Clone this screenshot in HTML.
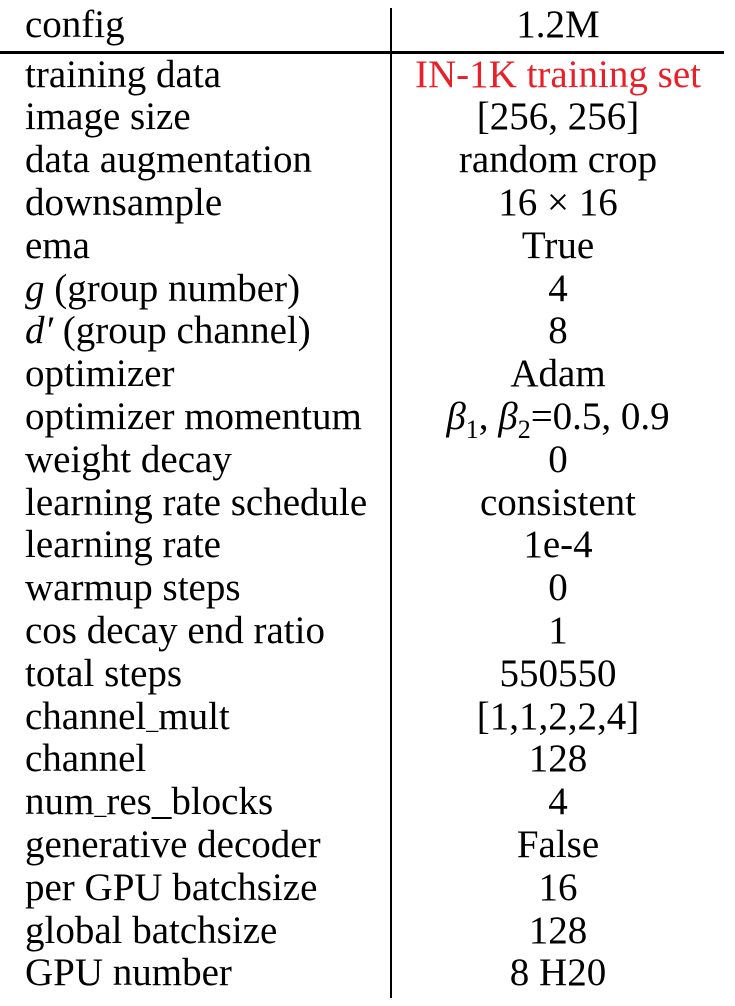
<!DOCTYPE html>
<html><head><meta charset="utf-8"><style>
body{margin:0;background:#fff;width:735px;height:1006px;position:relative;overflow:hidden;font-family:"Liberation Serif",serif;font-size:39px;color:#000}
.r{position:absolute;left:0;width:735px;height:43px;line-height:43px}
.k{position:absolute;left:25px;white-space:nowrap}
.v{position:absolute;left:391px;width:334px;text-align:center;white-space:nowrap}
i{font-style:italic}
</style></head><body>
<div>
<div style="position:absolute;left:390px;top:8px;width:1.5px;height:990px;background:#000"></div>
<div style="position:absolute;left:0;top:51px;width:724px;height:3px;background:#000"></div>
<div class="r" style="top:3px"><span class="k">config</span><span class="v">1.2M</span></div>
<div id="rows"></div>
</div>
<script>
const keys=["training data","image size","data augmentation","downsample","ema","<i>g</i> (group number)","<i>d′</i> (group channel)","optimizer","optimizer momentum","weight decay","learning rate schedule","learning rate","warmup steps","cos decay end ratio","total steps","channel_mult","channel","num_res_blocks","generative decoder","per GPU batchsize","global batchsize","GPU number"];
const vals=["IN-1K training set","[256, 256]","random crop","16 × 16","True","4","8","Adam","<i>β</i><sub style='font-size:26px'>1</sub>, <i>β</i><sub style='font-size:26px'>2</sub>=0.5, 0.9","0","consistent","1e-4","0","1","550550","[1,1,2,2,4]","128","4","False","16","128","8 H20"];
const c=document.getElementById('rows');
keys.forEach((k,i)=>{
 const r=document.createElement('div');r.className='r';
 
 
 r.style.top=(52.5+i*42.8)+'px';
 r.innerHTML='<span class="k">'+k.replace('_','<span style="font-size:24px">_</span>')+'</span><span class="v"'+(i===0?' style="color:#e8202a"':'')+'>'+vals[i]+'</span>';
 c.appendChild(r);
});
</script>
</body></html>
